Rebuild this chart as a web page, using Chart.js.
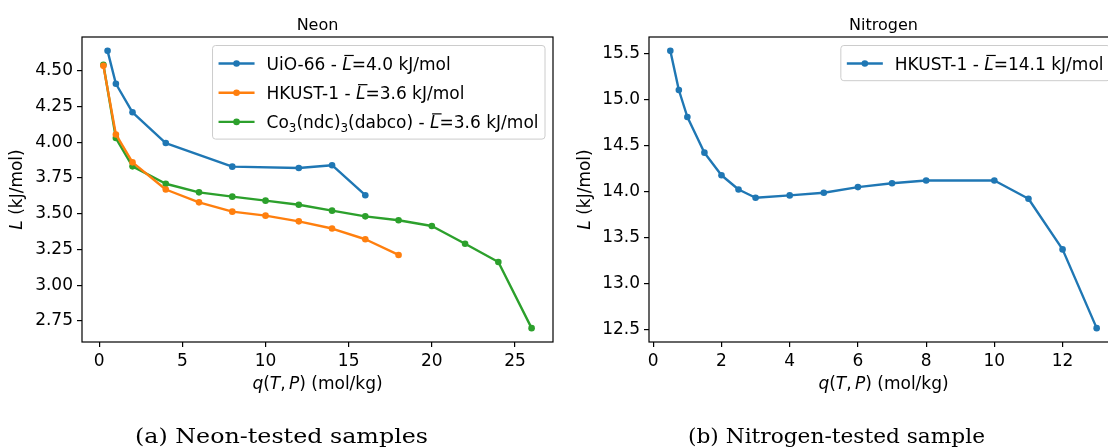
<!DOCTYPE html>
<html>
<head>
<meta charset="utf-8">
<script src="https://cdn.jsdelivr.net/npm/chart.js@4.4.1/dist/chart.umd.min.js"></script>
<style>
  html, body { margin: 0; padding: 0; background: #fff; overflow: hidden; width: 1108px; height: 448px; }
  canvas { position: absolute; top: 0; }
  #neon { left: 0; }
  #nitrogen { left: 560px; }
</style>
</head>
<body>
<canvas id="neon" width="560" height="448"></canvas>
<canvas id="nitrogen" width="570" height="448"></canvas>
<script>
// values
const neonXTicks = [0, 5, 10, 15, 20, 25];
const neonYTicks = [2.75, 3.0, 3.25, 3.5, 3.75, 4.0, 4.25, 4.5];

const uioX = [0.5, 1, 2, 4, 8, 12, 14, 16];
const uioY = [4.64, 4.41, 4.21, 3.995, 3.83, 3.82, 3.84, 3.63];

const hkustNeX = [0.25, 1, 2, 4, 6, 8, 10, 12, 14, 16, 18];
const hkustNeY = [4.535, 4.055, 3.86, 3.67, 3.58, 3.515, 3.487, 3.447, 3.397, 3.322, 3.212];

const coX = [0.25, 1, 2, 4, 6, 8, 10, 12, 14, 16, 18, 20, 22, 24, 26];
const coY = [4.543, 4.03, 3.832, 3.71, 3.65, 3.62, 3.592, 3.563, 3.522, 3.482, 3.455, 3.415, 3.29, 3.163, 2.7];

const n2XTicks = [0, 2, 4, 6, 8, 10, 12];
const n2YTicks = [12.5, 13.0, 13.5, 14.0, 14.5, 15.0, 15.5];

const hkustN2X = [0.5, 0.75, 1, 1.5, 2, 2.5, 3, 4, 5, 6, 7, 8, 10, 11, 12, 13];
const hkustN2Y = [15.525, 15.1, 14.807, 14.42, 14.175, 14.02, 13.93, 13.956, 13.985, 14.046, 14.088, 14.117, 14.118, 13.92, 13.37, 12.515];

const BLUE = "#1f77b4";
const ORANGE = "#ff7f0e";
const GREEN = "#2ca02c";
const FONT = "'DejaVu Sans', sans-serif";
const SIZE = 17;

// matplotlib style 5% margin around the data
function padRange(values) {
  const lo = Math.min(...values);
  const hi = Math.max(...values);
  const m = (hi - lo) * 0.05;
  return [lo - m, hi + m];
}

function dataset(label, xs, ys, color) {
  return {
    label,
    data: xs.map((x, i) => ({ x, y: ys[i] })),
    borderColor: color,
    backgroundColor: color,
    borderWidth: 2.4,
    borderJoinStyle: "round",
    pointRadius: 3.3,
    pointHoverRadius: 3.3,
    pointBorderWidth: 0,
    tension: 0,
    fill: false,
  };
}

// text made of pieces: italic, subscript, overline
function pieceFont(p, size) {
  const s = p.sub ? size * 0.7 : size;
  return `${p.it ? "italic " : ""}${s}px ${FONT}`;
}

function richWidth(ctx, parts, size) {
  let w = 0;
  parts.forEach((p) => {
    ctx.font = pieceFont(p, size);
    w += ctx.measureText(p.t).width;
  });
  return w;
}

function drawRich(ctx, parts, x, y, size, align) {
  let cx = align === "center" ? x - richWidth(ctx, parts, size) / 2 : x;
  ctx.textAlign = "left";
  ctx.textBaseline = "alphabetic";
  parts.forEach((p) => {
    ctx.font = pieceFont(p, size);
    const w = ctx.measureText(p.t).width;
    ctx.fillText(p.t, cx, p.sub ? y + size * 0.22 : y);
    if (p.bar) ctx.fillRect(cx + size * 0.12, y - size * 0.86, w, 1.2);
    cx += w;
  });
}

const xLabel = [
  { t: "q", it: true }, { t: "(" }, { t: "T", it: true }, { t: ",\u2009" },
  { t: "P", it: true }, { t: ")" }, { t: " (mol/kg)" },
];
const yLabel = [{ t: "L", it: true }, { t: " (kJ/mol)" }];

// frame, titles, legend and caption, drawn the matplotlib way
const decor = {
  id: "decor",
  afterDraw(chart, args, o) {
    const { ctx, chartArea: a } = chart;
    const mid = (a.left + a.right) / 2;
    ctx.save();
    ctx.strokeStyle = "#000";
    ctx.lineWidth = 1.2;
    ctx.strokeRect(a.left, a.top, a.right - a.left, a.bottom - a.top);
    ctx.fillStyle = "#000";

    ctx.font = `16px ${FONT}`;
    ctx.textAlign = "center";
    ctx.textBaseline = "alphabetic";
    ctx.fillText(o.title, mid, 29.5);

    drawRich(ctx, xLabel, mid, 389, SIZE, "center");

    ctx.save();
    ctx.translate(o.yLabelX, (a.top + a.bottom) / 2);
    ctx.rotate(-Math.PI / 2);
    drawRich(ctx, yLabel, 0, 0, SIZE, "center");
    ctx.restore();

    // legend box in the upper right corner
    const textW = Math.max(...o.legend.map((it) => richWidth(ctx, it.parts, SIZE)));
    const boxR = a.right - 8;
    const boxW = 54 + textW + 6.5;
    const boxL = boxR - boxW;
    const boxT = a.top + 8.5;
    const boxH = o.legend.length * 29.2 + 6;
    ctx.beginPath();
    ctx.roundRect(boxL, boxT, boxW, boxH, 3);
    ctx.fillStyle = "rgba(255,255,255,0.8)";
    ctx.fill();
    ctx.strokeStyle = "#cccccc";
    ctx.lineWidth = 1;
    ctx.stroke();
    o.legend.forEach((it, i) => {
      const cy = boxT + 18 + i * 29.2;
      ctx.strokeStyle = it.color;
      ctx.lineWidth = 2.4;
      ctx.beginPath();
      ctx.moveTo(boxL + 6, cy);
      ctx.lineTo(boxL + 42, cy);
      ctx.stroke();
      ctx.fillStyle = it.color;
      ctx.beginPath();
      ctx.arc(boxL + 24, cy, 3.3, 0, Math.PI * 2);
      ctx.fill();
      ctx.fillStyle = "#000";
      drawRich(ctx, it.parts, boxL + 54, cy + 6, SIZE, "left");
    });

    // sub-figure caption
    ctx.fillStyle = "#000";
    ctx.font = "21px 'DejaVu Serif', serif";
    const cw = ctx.measureText(o.caption).width;
    ctx.translate(o.captionX, 443);
    ctx.scale(o.captionW / cw, 1);
    ctx.textAlign = "center";
    ctx.fillText(o.caption, 0, 0);
    ctx.restore();
  },
};

function axis(range, ticks, digits, fit) {
  return {
    type: "linear",
    min: range[0],
    max: range[1],
    afterBuildTicks: (s) => { s.ticks = ticks.map((v) => ({ value: v })); },
    afterFit: fit,
    grid: { drawOnChartArea: false, drawTicks: true, tickLength: 5, color: "#000", lineWidth: 1.2 },
    border: { display: false },
    ticks: {
      color: "#000",
      font: { family: "'DejaVu Sans', sans-serif", size: SIZE },
      padding: 4,
      maxRotation: 0,
      autoSkip: false,
      callback: (v) => Number(v).toFixed(digits),
    },
  };
}

function makeChart(id, datasets, opts) {
  const canvas = document.getElementById(id);
  return new Chart(canvas.getContext("2d"), {
    type: "line",
    data: { datasets },
    options: {
      responsive: false,
      animation: false,
      devicePixelRatio: 1,
      layout: { padding: { top: 37, right: opts.padRight, left: 0, bottom: 0 } },
      plugins: { legend: { display: false }, tooltip: { enabled: false }, decor: opts.decor },
      scales: {
        x: axis(opts.xRange, opts.xTicks, 0, (s) => { s.height = 448 - 342; }),
        y: axis(opts.yRange, opts.yTicks, opts.yDigits, (s) => { s.width = opts.yWidth; }),
      },
    },
    plugins: [decor],
  });
}

makeChart("neon", [
  dataset("UiO-66", uioX, uioY, BLUE),
  dataset("HKUST-1", hkustNeX, hkustNeY, ORANGE),
  dataset("Co3(ndc)3(dabco)", coX, coY, GREEN),
], {
  padRight: 7,
  yWidth: 82,
  xRange: padRange([...uioX, ...hkustNeX, ...coX]),
  yRange: padRange([...uioY, ...hkustNeY, ...coY]),
  xTicks: neonXTicks,
  yTicks: neonYTicks,
  yDigits: 2,
  decor: {
    title: "Neon",
    yLabelX: 22,
    caption: "(a) Neon-tested samples",
    captionX: 281.5,
    captionW: 293,
    legend: [
      { color: BLUE, parts: [{ t: "UiO-66 - " }, { t: "L", it: true, bar: true }, { t: "=4.0 kJ/mol" }] },
      { color: ORANGE, parts: [{ t: "HKUST-1 - " }, { t: "L", it: true, bar: true }, { t: "=3.6 kJ/mol" }] },
      { color: GREEN, parts: [{ t: "Co" }, { t: "3", sub: true }, { t: "(ndc)" }, { t: "3", sub: true },
        { t: "(dabco) - " }, { t: "L", it: true, bar: true }, { t: "=3.6 kJ/mol" }] },
    ],
  },
});

makeChart("nitrogen", [
  dataset("HKUST-1", hkustN2X, hkustN2Y, BLUE),
], {
  padRight: 12,
  yWidth: 89,
  xRange: padRange(hkustN2X),
  yRange: padRange(hkustN2Y),
  xTicks: n2XTicks,
  yTicks: n2YTicks,
  yDigits: 1,
  decor: {
    title: "Nitrogen",
    yLabelX: 29.5,
    caption: "(b) Nitrogen-tested sample",
    captionX: 276.5,
    captionW: 297,
    legend: [
      { color: BLUE, parts: [{ t: "HKUST-1 - " }, { t: "L", it: true, bar: true }, { t: "=14.1 kJ/mol" }] },
    ],
  },
});
</script>
</body>
</html>
